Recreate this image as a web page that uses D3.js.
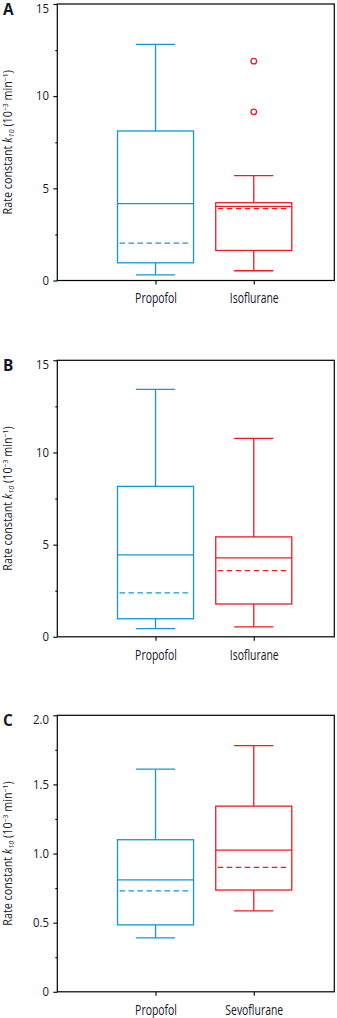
<!DOCTYPE html>
<html>
<head>
<meta charset="utf-8">
<script src="https://cdn.jsdelivr.net/npm/d3@7"></script>
<style>
  html, body { margin: 0; padding: 0; background: #fff; }
  svg { display: block; }
  .lbl { font-family: "Open Sans", "Noto Sans", sans-serif; font-weight: 500; }
  .axis .domain { display: none; }
</style>
</head>
<body>
<svg id="chart" width="337" height="1018"></svg>
<script>
// box statistics: [whisker low, q1, median, mean, q3, whisker high]
const categoriesAB = ["Propofol", "Isoflurane"];
const categoriesC = ["Propofol", "Sevoflurane"];

const propofolA = [0.31, 0.96, 4.17, 2.03, 8.11, 12.81];
const isofluraneA = [0.53, 1.63, 4.02, 3.90, 4.22, 5.69];
const isofluraneAOutliers = [9.15, 11.9];

const propofolB = [0.44, 0.98, 4.44, 2.38, 8.16, 13.42];
const isofluraneB = [0.54, 1.78, 4.28, 3.59, 5.42, 10.76];

const propofolC = [0.39, 0.484, 0.81, 0.73, 1.10, 1.61];
const sevofluraneC = [0.585, 0.736, 1.025, 0.90, 1.343, 1.78];

const majorTicksAB = [0, 5, 10, 15];
const minorTicksAB = [2.5, 7.5, 12.5];
const majorTicksC = [0, 0.5, 1.0, 1.5, 2.0];
const minorTicksC = [0.25, 0.75, 1.25, 1.75];

const BLUE = '#1496d4';
const RED = '#ec1c24';
const INK = '#16162a';

// condensed look: squeeze the humanist sans horizontally
const SQ_CAT = 0.745, SQ_TICK = 0.97, SQ_TITLE = 0.92;

const svg = d3.select('#chart');

// one entry per panel, built from the arrays above
const panels = [
    { label: 'A', top: 4, cats: categoriesAB, boxes: [propofolA, isofluraneA],
      outliers: [[], isofluraneAOutliers], domain: [0, 15],
      major: majorTicksAB, minor: minorTicksAB, fmt: d => d },
    { label: 'B', top: 360.3, cats: categoriesAB, boxes: [propofolB, isofluraneB],
      outliers: [[], []], domain: [0, 15],
      major: majorTicksAB, minor: minorTicksAB, fmt: d => d },
    { label: 'C', top: 715.3, cats: categoriesC, boxes: [propofolC, sevofluraneC],
      outliers: [[], []], domain: [0, 2],
      major: majorTicksC, minor: minorTicksC, fmt: d => d === 0 ? '0' : d.toFixed(1) }
];

const LEFT = 57.3, RIGHT = 334.3, PH = 276.5;
const colors = [BLUE, RED];

const x = d3.scaleLinear().domain([0, 2.82]).range([LEFT, RIGHT]);
const boxHalf = 0.387, capHalf = 0.2;

panels.forEach(p => {
    const g = svg.append('g');
    const y = d3.scaleLinear().domain(p.domain).range([p.top + PH, p.top]);

    // frame
    g.append('rect')
        .attr('x', LEFT).attr('y', p.top)
        .attr('width', RIGHT - LEFT).attr('height', PH)
        .attr('fill', 'none').attr('stroke', '#000').attr('stroke-width', 1.2);

    // y axis, major + minor ticks
    const yAxis = g.append('g').attr('class', 'axis lbl')
        .attr('transform', `translate(${LEFT},0)`)
        .call(d3.axisLeft(y).tickValues(p.major).tickSize(4).tickPadding(4.3).tickFormat(p.fmt));
    yAxis.selectAll('text')
        .attr('fill', INK)
        .style('font-size', '11.7px')
        .attr('transform', `scale(${SQ_TICK},1)`)
        .attr('x', -8.3 / SQ_TICK)
        // top label sits below its tick
        .attr('dy', d => d === p.domain[1] ? '0.72em' : '0.32em');
    g.append('g').attr('class', 'axis')
        .attr('transform', `translate(${LEFT},0)`)
        .call(d3.axisLeft(y).tickValues(p.minor).tickSize(2).tickFormat(''));
    g.selectAll('.tick line').attr('stroke', '#000').attr('stroke-width', 1.1);

    // x axis
    const xAxis = g.append('g').attr('class', 'axis lbl')
        .attr('transform', `translate(0,${p.top + PH})`)
        .call(d3.axisBottom(x).tickValues([1, 2]).tickSize(4).tickPadding(8.8)
            .tickFormat((d, i) => p.cats[i]));
    xAxis.selectAll('text')
        .attr('fill', INK)
        .style('font-size', '14px')
        .attr('transform', `scale(${SQ_CAT},1)`);
    xAxis.selectAll('line').attr('stroke', '#000').attr('stroke-width', 1.1);

    // boxes
    p.boxes.forEach((b, i) => {
        const [lo, q1, med, mean, q3, hi] = b;
        const cx = i + 1;
        const c = colors[i];
        const bg = g.append('g').attr('stroke', c).attr('stroke-width', 1.3).attr('fill', 'none');

        // whiskers
        bg.append('line').attr('x1', x(cx)).attr('x2', x(cx)).attr('y1', y(q3)).attr('y2', y(hi));
        bg.append('line').attr('x1', x(cx)).attr('x2', x(cx)).attr('y1', y(q1)).attr('y2', y(lo));
        [lo, hi].forEach(v => {
            bg.append('line')
                .attr('x1', x(cx - capHalf)).attr('x2', x(cx + capHalf))
                .attr('y1', y(v)).attr('y2', y(v));
        });

        bg.append('rect')
            .attr('x', x(cx - boxHalf)).attr('y', y(q3))
            .attr('width', x(cx + boxHalf) - x(cx - boxHalf))
            .attr('height', y(q1) - y(q3));

        // median (solid) and mean (dashed)
        bg.append('line')
            .attr('x1', x(cx - boxHalf)).attr('x2', x(cx + boxHalf))
            .attr('y1', y(med)).attr('y2', y(med));
        bg.append('line')
            .attr('x1', x(cx - boxHalf) + 2).attr('x2', x(cx + boxHalf) - 2)
            .attr('y1', y(mean)).attr('y2', y(mean))
            .attr('stroke-dasharray', '5.5,3.5');

        bg.selectAll('circle.out')
            .data(p.outliers[i])
            .enter()
            .append('circle')
            .attr('class', 'out')
            .attr('cx', x(cx)).attr('cy', d => y(d)).attr('r', 2.8);
    });

    // panel letter
    g.append('text')
        .attr('class', 'lbl')
        .attr('x', 3).attr('y', p.top + 11)
        .style('font-weight', 'bold').style('font-size', '15.4px')
        .attr('fill', INK)
        .text(p.label);

    // y title
    const t = g.append('text').attr('class', 'lbl')
        .attr('transform', `translate(11.5,${p.top + PH / 2}) rotate(-90) scale(${SQ_TITLE},1)`)
        .attr('text-anchor', 'middle')
        .attr('fill', INK)
        .style('font-size', '11.7px');
    t.append('tspan').text('Rate constant ');
    t.append('tspan').style('font-style', 'italic').text('k');
    t.append('tspan').style('font-style', 'italic').style('font-size', '8px').attr('dy', 2.5).text('10');
    t.append('tspan').attr('dy', -2.5).text(' (10');
    t.append('tspan').style('font-size', '7.5px').attr('dy', -4).text('\u22123');
    t.append('tspan').attr('dy', 4).text(' min');
    t.append('tspan').style('font-size', '7.5px').attr('dy', -4).text('\u22121');
    t.append('tspan').attr('dy', 4).text(')');
});
</script>
</body>
</html>
